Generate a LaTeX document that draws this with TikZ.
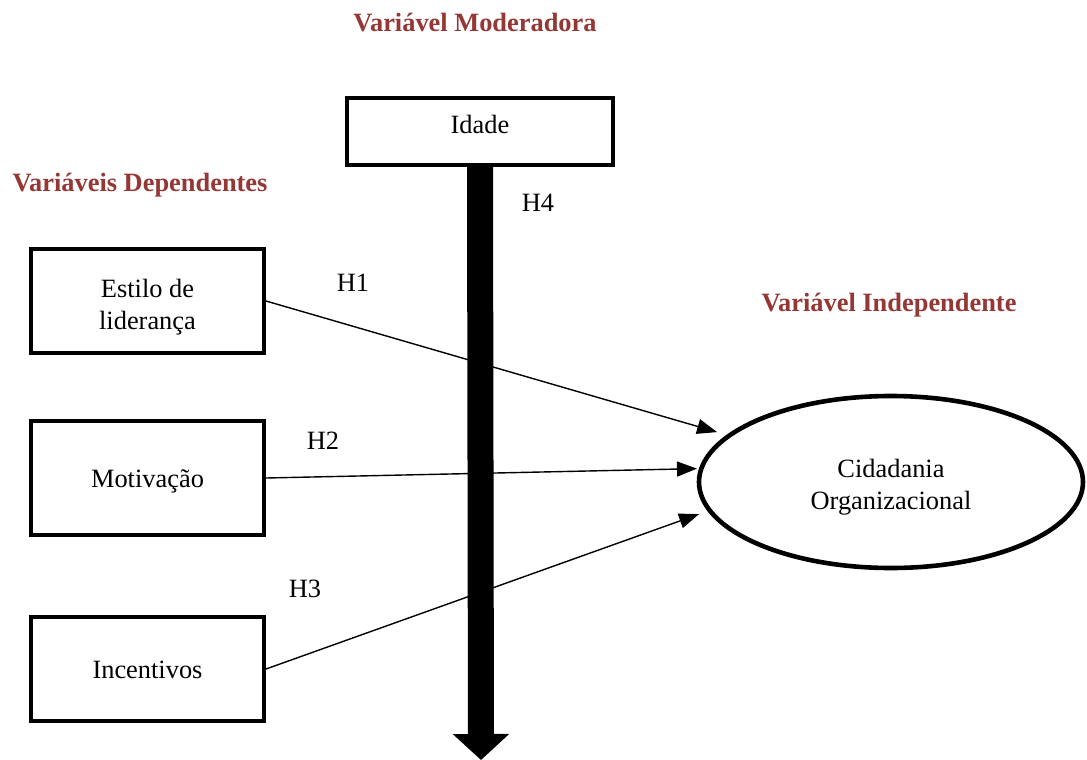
\documentclass[tikz,border=0pt]{standalone}
\usepackage{fontspec}
\setmainfont{Liberation Serif}
\usetikzlibrary{arrows.meta,shapes.geometric}
\definecolor{titlered}{RGB}{149,55,53}
\begin{document}
\begin{tikzpicture}[x=1pt,y=-1pt,
  every node/.style={font=\fontsize{26.4}{32}\selectfont},
  box/.style={draw,line width=4pt,minimum width=233pt,inner sep=0pt,align=center},
  title/.style={font=\fontsize{26.4}{32}\selectfont\bfseries,text=titlered,anchor=base,inner sep=0pt},
  hlabel/.style={inner sep=0pt},
  conn/.style={line width=1.4pt,-{Triangle[length=20pt,width=15pt]}}]
\useasboundingbox (0,0) rectangle (1087,760);
% titles
\node[title] (tmod) at (475,32) {Variável Moderadora};
\node[title] (tdep) at (140,191) {Variáveis Dependentes};
\node[title] (tind) at (889,311) {Variável Independente};
% boxes
\node[box,minimum width=266pt,minimum height=67pt,text height=10pt,text depth=7pt] (idade) at (480,131.5) {Idade};
\node[box,minimum height=104pt] (estilo) at (147.5,301) {\rule{0pt}{30pt}Estilo de\\liderança};
\node[box,minimum height=114pt,text height=20pt,text depth=2pt] (motiv) at (147.5,478) {Motivação};
\node[box,minimum height=104pt,text height=20pt,text depth=2pt] (incent) at (147.5,669) {Incentivos};
\node[draw,ellipse,line width=4.6pt,minimum width=384pt,minimum height=172pt,inner sep=0pt,align=center] (cid) at (891,482) {\rule{0pt}{28pt}Cidadania\\Organizacional};
% moderator arrow
\coordinate (modend) at (481,760);
\draw[line width=26pt,-{Triangle[length=26pt,width=55pt]}] (idade.south) -- (modend);
% hypotheses connectors
\draw[conn,shorten >=10pt] (estilo.east) -- (cid.164);
\draw[conn,shorten >=2pt] (motiv.east) -- (cid.176);
\draw[conn,shorten >=9pt] (incent.east) -- (cid.189);
% labels
\node[hlabel] (h4) at (538,203) {H4};
\node[hlabel] (h1) at (353,283) {H1};
\node[hlabel] (h2) at (323,441) {H2};
\node[hlabel] (h3) at (305,589) {H3};
\end{tikzpicture}
\end{document}
